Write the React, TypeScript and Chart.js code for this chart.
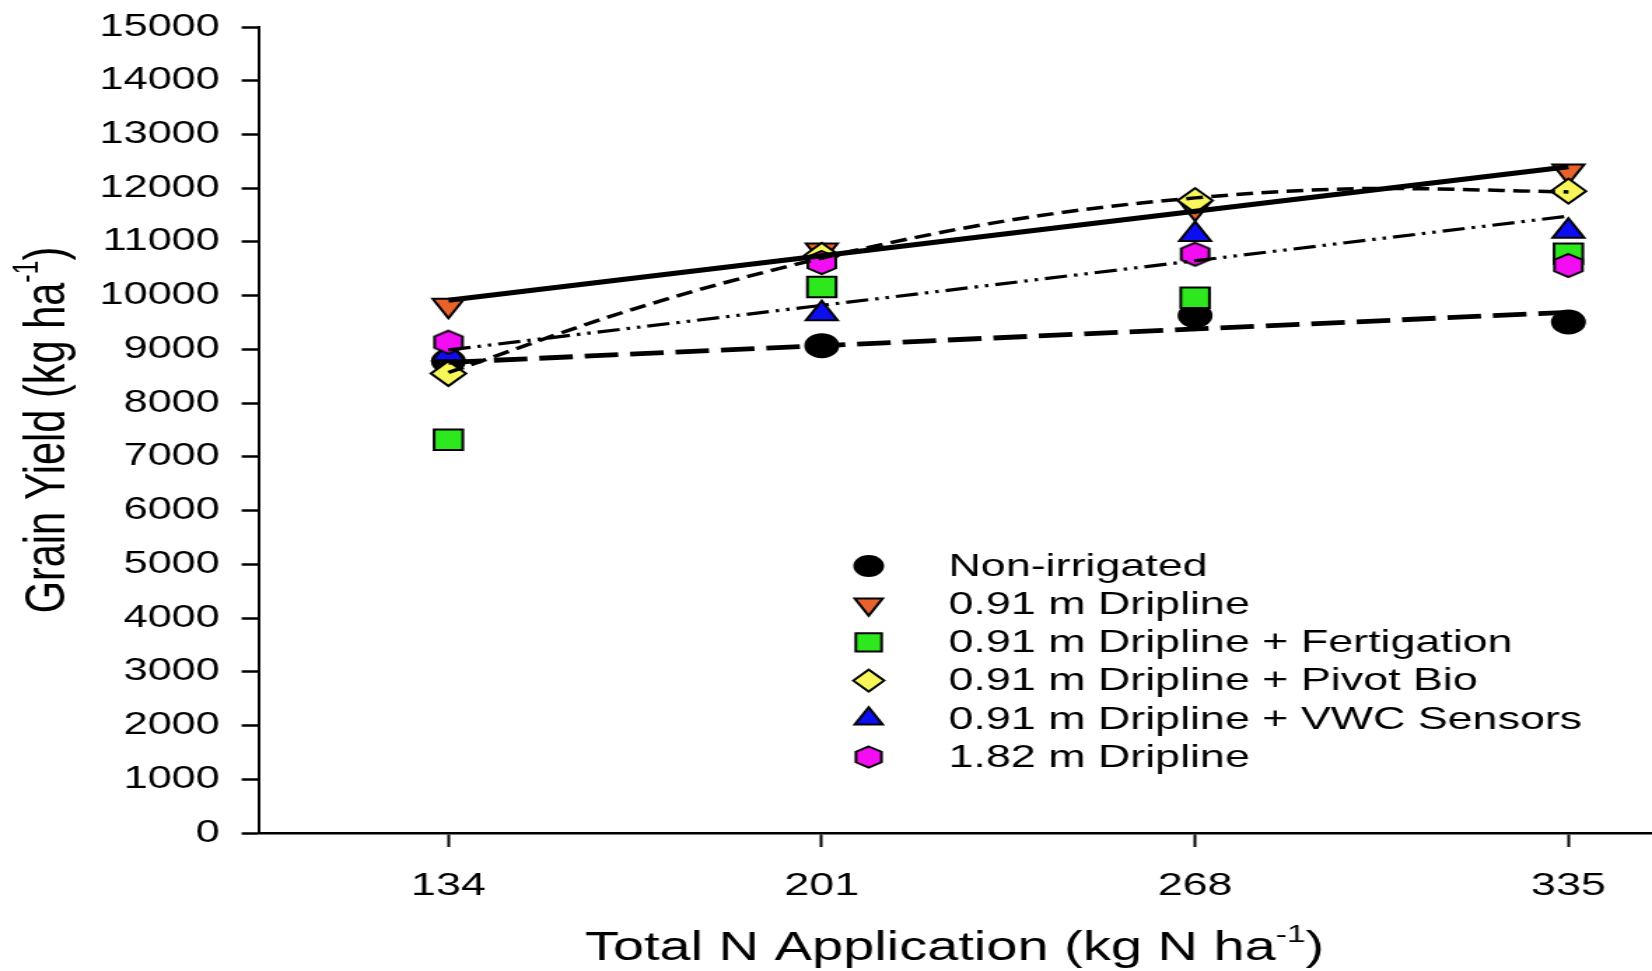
import React, { useEffect, useRef } from "react";
import { Chart, registerables } from "chart.js";

Chart.register(...registerables);

// ---------- data ----------
const nRates = [134, 201, 268, 335];
const xTickValues = [134, 201, 268, 335];
const yMin = 0;
const yMax = 15000;
const yStep = 1000;
const xMin = 100;
const xMax = 350;

const seriesNames = [
  "Non-irrigated",
  "0.91 m Dripline",
  "0.91 m Dripline + Fertigation",
  "0.91 m Dripline + Pivot Bio",
  "0.91 m Dripline + VWC Sensors",
  "1.82 m Dripline",
];
const nonIrrigated = [8780, 9070, 9630, 9510];
const dripline091 = [9820, 10850, 11630, 12320];
const fertigation = [7320, 10160, 9960, 10780];
const pivotBio = [8550, 10750, 11770, 11945];
const vwcSensors = [8920, 9665, 11140, 11200];
const dripline182 = [9135, 10618, 10772, 10562];

// fitted regression lines
const fitEndsX = [134, 335];
const fitNonIrrigated = [8760, 9690];
const fitDripline091 = [9915, 12400];
const fitVwcSensors = [8990, 11480];
const pivotCurveX = [134, 167.5, 201, 234.5, 268, 301.5, 335];
const pivotCurveY = [8570, 9760, 10700, 11400, 11820, 11995, 11930];

const xTitle = "Total N Application (kg N ha";
const yTitle = "Grain Yield (kg ha";
const supText = "-1";
const closeText = ")";

// ---------- layout / style ----------
const STRETCH = 1.4;
const FULL_W = 1652;
const H = 971;
const W = Math.round(FULL_W / STRETCH);
const FONT = '"Liberation Sans", Arial, Helvetica, sans-serif';

const C_BLACK = "#000000";
const C_ORANGE = "#E8622C";
const C_GREEN = "#2DE81C";
const C_YELLOW = "#F7F75A";
const C_BLUE = "#0D0DF2";
const C_MAGENTA = "#F20DF2";
const MARKER_LW = 2;

function hexPath(ctx: CanvasRenderingContext2D, x: number, y: number, R: number) {
  ctx.beginPath();
  for (let i = 0; i < 6; i++) {
    const a = -Math.PI / 2 + (i * Math.PI) / 3;
    const px = x + R * Math.cos(a);
    const py = y + R * Math.sin(a);
    if (i === 0) ctx.moveTo(px, py);
    else ctx.lineTo(px, py);
  }
  ctx.closePath();
}

function makeHexagon(R: number, fill: string, lw: number) {
  const c = document.createElement("canvas");
  const w = Math.ceil(Math.sqrt(3) * R + lw * 2 + 2);
  const h = Math.ceil(2 * R + lw * 2 + 2);
  c.width = w;
  c.height = h;
  const ctx = c.getContext("2d")!;
  hexPath(ctx, w / 2, h / 2, R);
  ctx.fillStyle = fill;
  ctx.fill();
  ctx.lineWidth = lw;
  ctx.strokeStyle = "#000";
  ctx.stroke();
  return c;
}

function drawSymbol(
  ctx: CanvasRenderingContext2D,
  kind: string,
  x: number,
  y: number,
  r: number,
  fill: string
) {
  ctx.save();
  ctx.beginPath();
  if (kind === "circle") {
    ctx.arc(x, y, r, 0, Math.PI * 2);
  } else if (kind === "triDown" || kind === "triUp") {
    const s = kind === "triUp" ? 1 : -1;
    for (let i = 0; i < 3; i++) {
      const a = (i * 2 * Math.PI) / 3;
      const px = x + Math.sin(a) * r;
      const py = y - s * Math.cos(a) * r;
      if (i === 0) ctx.moveTo(px, py);
      else ctx.lineTo(px, py);
    }
    ctx.closePath();
  } else if (kind === "square") {
    const hs = Math.SQRT1_2 * r;
    ctx.rect(x - hs, y - hs, 2 * hs, 2 * hs);
  } else if (kind === "diamond") {
    ctx.moveTo(x - r, y);
    ctx.lineTo(x, y - r);
    ctx.lineTo(x + r, y);
    ctx.lineTo(x, y + r);
    ctx.closePath();
  } else if (kind === "hex") {
    hexPath(ctx, x, y, r);
  }
  ctx.fillStyle = fill;
  ctx.fill();
  ctx.lineWidth = MARKER_LW;
  ctx.strokeStyle = "#000";
  ctx.stroke();
  ctx.restore();
}

function drawTitleWithSup(
  ctx: CanvasRenderingContext2D,
  main: string,
  size: number
) {
  // draws centered at (0,0), baseline alphabetic
  ctx.font = `${size}px ${FONT}`;
  const w1 = ctx.measureText(main).width;
  const supSize = Math.round(size * 0.6);
  ctx.font = `${supSize}px ${FONT}`;
  const w2 = ctx.measureText(supText).width;
  ctx.font = `${size}px ${FONT}`;
  const w3 = ctx.measureText(closeText).width;
  const total = w1 + w2 + w3;
  let x = -total / 2;
  ctx.textAlign = "left";
  ctx.textBaseline = "alphabetic";
  ctx.fillStyle = "#000";
  ctx.font = `${size}px ${FONT}`;
  ctx.fillText(main, x, 0);
  x += w1;
  ctx.font = `${supSize}px ${FONT}`;
  ctx.fillText(supText, x, -size * 0.45);
  x += w2;
  ctx.font = `${size}px ${FONT}`;
  ctx.fillText(closeText, x, 0);
}

const legendKinds = ["circle", "triDown", "square", "diamond", "triUp", "hex"];
const legendFills = [C_BLACK, C_ORANGE, C_GREEN, C_YELLOW, C_BLUE, C_MAGENTA];
const legendRadii = [10, 11.5, 13, 11, 11.5, 10.5];

const overlayPlugin = {
  id: "overlay",
  afterDraw(chart: any) {
    const ctx: CanvasRenderingContext2D = chart.ctx;
    // legend
    const symX = 620.5;
    const textX = 677.5;
    const row0 = 566;
    const rowGap = 38.2;
    for (let i = 0; i < seriesNames.length; i++) {
      const y = row0 + i * rowGap;
      drawSymbol(ctx, legendKinds[i], symX, y, legendRadii[i], legendFills[i]);
      ctx.save();
      ctx.font = `32px ${FONT}`;
      ctx.fillStyle = "#000";
      ctx.textAlign = "left";
      ctx.textBaseline = "middle";
      ctx.fillText(seriesNames[i], textX, y + 1);
      ctx.restore();
    }
    // x title
    ctx.save();
    ctx.translate(681.8, 960);
    drawTitleWithSup(ctx, xTitle, 40);
    ctx.restore();
    // y title
    ctx.save();
    ctx.translate(45.5, 430);
    ctx.rotate(-Math.PI / 2);
    drawTitleWithSup(ctx, yTitle, 41.5);
    ctx.restore();
  },
};

function pts(xs: number[], ys: number[]) {
  return xs.map((x, i) => ({ x, y: ys[i] }));
}

export default function App() {
  const ref = useRef<HTMLCanvasElement>(null);

  useEffect(() => {
    const canvas = ref.current;
    if (!canvas) return;
    const hexImg = makeHexagon(11.5, C_MAGENTA, MARKER_LW);

    const markerBase = {
      showLine: false,
      borderColor: "#000",
      borderWidth: MARKER_LW,
    };
    const lineBase = {
      showLine: true,
      pointRadius: 0,
      borderColor: "#000",
      backgroundColor: "#000",
      fill: false,
      order: 0,
    };

    const chart = new Chart(canvas, {
      type: "scatter",
      data: {
        datasets: [
          {
            ...lineBase,
            label: "fit " + seriesNames[1],
            data: pts(fitEndsX, fitDripline091),
            borderWidth: 5,
          },
          {
            ...lineBase,
            label: "fit " + seriesNames[0],
            data: pts(fitEndsX, fitNonIrrigated),
            borderWidth: 4.8,
            borderDash: [24, 8.5],
          },
          {
            ...lineBase,
            label: "fit " + seriesNames[4],
            data: pts(fitEndsX, fitVwcSensors),
            borderWidth: 3.2,
            borderDash: [16, 5, 2.5, 5, 2.5, 5],
          },
          {
            ...lineBase,
            label: "fit " + seriesNames[3],
            data: pts(pivotCurveX, pivotCurveY),
            borderWidth: 3.5,
            borderDash: [12, 6],
            cubicInterpolationMode: "monotone",
          },
          {
            ...markerBase,
            label: seriesNames[5],
            data: pts(nRates, dripline182),
            pointStyle: hexImg,
            backgroundColor: C_MAGENTA,
            order: 1,
          },
          {
            ...markerBase,
            label: seriesNames[3],
            data: pts(nRates, pivotBio),
            pointStyle: "rectRot",
            pointRadius: 12.5,
            backgroundColor: C_YELLOW,
            order: 2,
          },
          {
            ...markerBase,
            label: seriesNames[2],
            data: pts(nRates, fertigation),
            pointStyle: "rect",
            pointRadius: 14.5,
            backgroundColor: C_GREEN,
            order: 3,
          },
          {
            ...markerBase,
            label: seriesNames[4],
            data: pts(nRates, vwcSensors),
            pointStyle: "triangle",
            pointRadius: 13,
            backgroundColor: C_BLUE,
            order: 4,
          },
          {
            ...markerBase,
            label: seriesNames[1],
            data: pts(nRates, dripline091),
            pointStyle: "triangle",
            rotation: 180,
            pointRadius: 13,
            backgroundColor: C_ORANGE,
            order: 5,
          },
          {
            ...markerBase,
            label: seriesNames[0],
            data: pts(nRates, nonIrrigated),
            pointStyle: "circle",
            pointRadius: 11.5,
            backgroundColor: C_BLACK,
            order: 6,
          },
        ] as any,
      },
      options: {
        responsive: false,
        maintainAspectRatio: false,
        animation: false,
        devicePixelRatio: 1,
        events: [],
        layout: {
          autoPadding: false,
          padding: { top: 27, left: 0, right: 0, bottom: 0 },
        },
        plugins: {
          legend: { display: false },
          tooltip: { enabled: false },
        },
        scales: {
          x: {
            type: "linear",
            min: xMin,
            max: xMax,
            afterBuildTicks: (s: any) => {
              s.ticks = xTickValues.map((v) => ({ value: v }));
            },
            afterFit: (s: any) => {
              s.height = H - 833;
              s.paddingLeft = 0;
              s.paddingRight = 0;
            },
            ticks: {
              autoSkip: false,
              maxRotation: 0,
              color: "#000",
              padding: 20,
              font: { family: FONT, size: 32 },
              callback: (v: any) => String(v),
            },
            grid: {
              display: true,
              drawOnChartArea: false,
              drawTicks: true,
              tickLength: 14,
              tickWidth: 2,
              tickColor: "#000",
            },
            border: { display: true, color: "#000", width: 2.5 },
          },
          y: {
            type: "linear",
            min: yMin,
            max: yMax,
            afterFit: (s: any) => {
              s.width = 185;
              s.paddingTop = 0;
              s.paddingBottom = 0;
            },
            ticks: {
              stepSize: yStep,
              color: "#000",
              padding: 15.5,
              font: { family: FONT, size: 31 },
              callback: (v: any) => String(v),
            },
            grid: {
              display: true,
              drawOnChartArea: false,
              drawTicks: true,
              tickLength: 12.4,
              tickWidth: 2.5,
              tickColor: "#000",
            },
            border: { display: true, color: "#000", width: 2 },
          },
        },
      } as any,
      plugins: [overlayPlugin],
    });
    return () => chart.destroy();
  }, []);

  return (
    <div
      style={{
        position: "fixed",
        left: 0,
        top: 0,
        width: FULL_W,
        height: H,
        background: "#fff",
        overflow: "hidden",
      }}
    >
      <canvas
        ref={ref}
        width={W}
        height={H}
        style={{ display: "block", width: FULL_W + "px", height: H + "px" }}
      />
    </div>
  );
}
